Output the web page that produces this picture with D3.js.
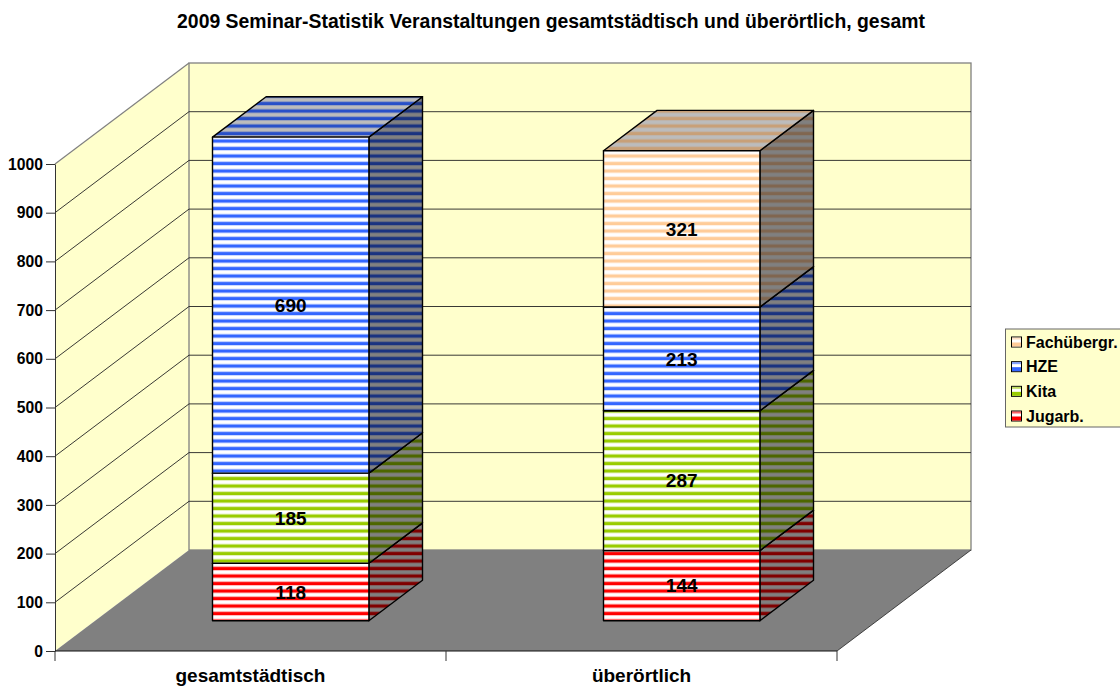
<!DOCTYPE html>
<html>
<head>
<meta charset="utf-8">
<script src="https://cdn.jsdelivr.net/npm/d3@7"></script>
<style>
    html, body { margin: 0; padding: 0; background: #fff; }
    svg { display: block; }
    text { font-family: "Liberation Sans", Arial, sans-serif; font-weight: bold; fill: #000; }
</style>
</head>
<body>
<div id="chart"></div>
<script>
const categories = ["gesamtstädtisch", "überörtlich"];
const seriesNames = ["Jugarb.", "Kita", "HZE", "Fachübergr."];
const jugarb = [118, 144];
const kita = [185, 287];
const hze = [690, 213];
const fachuebergr = [0, 321];
const yTicks = [0, 100, 200, 300, 400, 500, 600, 700, 800, 900, 1000];
const titleText = "2009 Seminar-Statistik Veranstaltungen gesamtstädtisch und überörtlich, gesamt";

const seriesValues = [jugarb, kita, hze, fachuebergr];
const frontColors = ["#ff0000", "#99cc00", "#3366ff", "#ffcc99"];
const sideColors = ["#800000", "#4d6600", "#1a3380", "#806650"];
const topColors = ["#c80000", "#78a000", "#2850c8", "#c8a078"];

const width = 1120, height = 686;
const depthX = 134, depthY = -101;

const svg = d3.select("#chart").append("svg")
    .attr("width", width)
    .attr("height", height);

const x = d3.scaleBand().domain(categories).range([55, 837]).paddingInner(0.6).paddingOuter(0.3);
const y = d3.scaleLinear().domain([0, 1000]).range([651, 164]);

// 3d projection: depth 0 is the front of the box, 1 is the back wall
function project(px, value, depth) {
    return [px + depth * depthX, y(value) + depth * depthY];
}
function poly(points) {
    return d3.line()(points) + "Z";
}

// striped fills, soft edge on each stripe like the scaled original
const defs = svg.append("defs");
function addPattern(id, stripe, gap) {
    const p = defs.append("pattern")
        .attr("id", id)
        .attr("patternUnits", "userSpaceOnUse")
        .attr("width", 8)
        .attr("height", 7.5);
    p.append("rect").attr("width", 8).attr("height", 7.5).attr("fill", gap);
    p.append("rect").attr("y", 3.7).attr("width", 8).attr("height", 0.8).attr("fill", stripe).attr("opacity", 0.3);
    p.append("rect").attr("y", 0).attr("width", 8).attr("height", 0.8).attr("fill", stripe).attr("opacity", 0.3);
    p.append("rect").attr("y", 4.5).attr("width", 8).attr("height", 3).attr("fill", stripe);
}
seriesNames.forEach((s, i) => {
    addPattern("front" + i, frontColors[i], "#ffffff");
    addPattern("side" + i, sideColors[i], "#808080");
    addPattern("top" + i, topColors[i], "#bcbcbc");
});

const x0 = x.range()[0], x1 = x.range()[1];

// walls and floor
svg.append("path")
    .attr("d", poly([project(x0, 0, 0), project(x0, 0, 1), project(x0, 1000, 1), project(x0, 1000, 0)]))
    .attr("fill", "#ffffcc")
    .attr("stroke", "none");
svg.append("rect")
    .attr("x", project(x0, 0, 1)[0])
    .attr("y", project(x0, 1000, 1)[1])
    .attr("width", x1 - x0)
    .attr("height", y(0) - y(1000))
    .attr("fill", "#ffffcc")
    .attr("stroke", "#808080")
    .attr("stroke-width", 1.3);
svg.append("path")
    .attr("d", d3.line()([project(x0, 1000, 0), project(x0, 1000, 1)]))
    .attr("fill", "none")
    .attr("stroke", "#808080")
    .attr("stroke-width", 1.2);
svg.append("path")
    .attr("d", poly([project(x0, 0, 0), project(x1, 0, 0), project(x1, 0, 1), project(x0, 0, 1)]))
    .attr("fill", "#808080");
svg.append("path")
    .attr("d", d3.line()([project(x1, 0, 0), project(x1, 0, 1)]))
    .attr("fill", "none")
    .attr("stroke", "#222")
    .attr("stroke-width", 0.8);

// gridlines on both walls
const grid = svg.append("g").attr("fill", "none").attr("stroke", "#222").attr("stroke-width", 0.9);
yTicks.filter(t => t > 0 && t < 1000).forEach(t => {
    grid.append("path").attr("d", d3.line()([project(x0, t, 0), project(x0, t, 1), project(x1, t, 1)]));
});

// axes
const yAxis = svg.append("g")
    .attr("transform", `translate(${x0},0)`)
    .call(d3.axisLeft(y).tickValues(yTicks).tickFormat(d3.format("d")).tickSize(9).tickSizeOuter(0).tickPadding(3));
yAxis.selectAll("path,line").attr("stroke", "#333").attr("stroke-width", 1);
yAxis.selectAll("text").style("font-size", "15.7px").attr("dy", "0.33em");

const bottomAxis = svg.append("g").attr("transform", `translate(0,${y(0)})`);
bottomAxis.append("path").attr("d", `M${x0},0H${x1}`).attr("stroke", "#111").attr("stroke-width", 1.2);
d3.range(categories.length + 1).forEach(i => {
    const tx = x0 + i * x.step();
    bottomAxis.append("line").attr("x1", tx).attr("x2", tx).attr("y1", 0).attr("y2", 10).attr("stroke", "#333");
});
categories.forEach(c => {
    bottomAxis.append("text")
        .attr("x", x(c) + x.bandwidth() / 2)
        .attr("y", 30.5)
        .attr("text-anchor", "middle")
        .style("font-size", "19px")
        .text(c);
});

// bars: depth runs from 0.3 to 0.7 of the box
const dFront = 0.3, dBack = 0.7;
const bars = svg.append("g");
categories.forEach((c, ci) => {
    let base = 0;
    const left = x(c), right = left + x.bandwidth();
    seriesValues.forEach((vals, si) => {
        const v = vals[ci];
        if (!v) return;
        const top = base + v;
        const g = bars.append("g").attr("stroke", "#000").attr("stroke-width", 1.4).attr("stroke-linejoin", "round");
        g.append("path")
            .attr("d", poly([project(right, base, dFront), project(right, base, dBack), project(right, top, dBack), project(right, top, dFront)]))
            .attr("fill", `url(#side${si})`);
        g.append("path")
            .attr("d", poly([project(left, top, dFront), project(right, top, dFront), project(right, top, dBack), project(left, top, dBack)]))
            .attr("fill", `url(#top${si})`);
        g.append("path")
            .attr("d", poly([project(left, base, dFront), project(right, base, dFront), project(right, top, dFront), project(left, top, dFront)]))
            .attr("fill", `url(#front${si})`);
        base = top;
    });
});

// value labels on the front faces
categories.forEach((c, ci) => {
    let base = 0;
    seriesValues.forEach(vals => {
        const v = vals[ci];
        if (!v) return;
        const p = project(x(c) + x.bandwidth() / 2, base + v / 2, dFront);
        svg.append("text")
            .attr("x", p[0])
            .attr("y", p[1])
            .attr("dy", "0.35em")
            .attr("text-anchor", "middle")
            .style("font-size", "19px")
            .text(v);
        base += v;
    });
});

// title
svg.append("text")
    .attr("x", 551)
    .attr("y", 28)
    .attr("text-anchor", "middle")
    .style("font-size", "19.4px")
    .text(titleText);

// legend, top entry is the last series
const legendY = d3.scalePoint().domain(seriesNames.slice().reverse()).range([342, 416]);
const legend = svg.append("g");
legend.append("rect")
    .attr("x", 1005.5)
    .attr("y", 329)
    .attr("width", 130)
    .attr("height", 98)
    .attr("fill", "#ffffcc")
    .attr("stroke", "#666");
seriesNames.forEach((s, i) => {
    legend.append("rect")
        .attr("x", 1011.5)
        .attr("y", legendY(s) - 5)
        .attr("width", 10)
        .attr("height", 10)
        .attr("fill", "#fff")
        .attr("stroke", "#000");
    legend.append("rect")
        .attr("x", 1012)
        .attr("y", legendY(s) + 0.5)
        .attr("width", 9)
        .attr("height", 4)
        .attr("fill", frontColors[i]);
    legend.append("rect")
        .attr("x", 1012)
        .attr("y", legendY(s) - 4.5)
        .attr("width", 9)
        .attr("height", 2)
        .attr("fill", frontColors[i])
        .attr("opacity", 0.6);
    legend.append("text")
        .attr("x", 1026)
        .attr("y", legendY(s))
        .attr("dy", "0.35em")
        .style("font-size", "16px")
        .text(s);
});
</script>
</body>
</html>
